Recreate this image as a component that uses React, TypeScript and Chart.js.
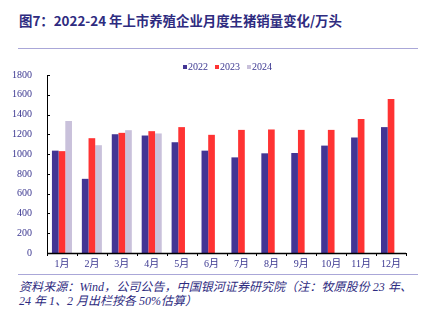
import React, { useEffect, useRef } from "react";
import { Chart, registerables } from "chart.js";

Chart.register(...registerables);

const categories = ["1月", "2月", "3月", "4月", "5月", "6月", "7月", "8月", "9月", "10月", "11月", "12月"];
const values2022 = [1035, 750, 1201, 1188, 1120, 1035, 967, 1008, 1011, 1086, 1168, 1273];
const values2023 = [1030, 1161, 1215, 1232, 1273, 1195, 1245, 1249, 1245, 1245, 1354, 1558];
const values2024 = [1334, 1090, 1242, 1209, null, null, null, null, null, null, null, null];
const yTicks = [0, 200, 400, 600, 800, 1000, 1200, 1400, 1600, 1800];
const seriesNames = ["2022", "2023", "2024"];
const seriesColors = ["#433594", "#FF3333", "#C9C1DB"];

const NAVY = "#3a3690";

const axisPlugin = {
  id: "axisPlugin",
  afterDraw(chart: any) {
    const { ctx, chartArea, scales } = chart;
    const y = scales.y;
    ctx.save();
    ctx.strokeStyle = "#000";
    ctx.lineWidth = 1;
    ctx.beginPath();
    ctx.moveTo(Math.round(chartArea.left) + 0.5, y.getPixelForValue(1800));
    ctx.lineTo(Math.round(chartArea.left) + 0.5, chartArea.bottom);
    ctx.stroke();
    yTicks.forEach((v) => {
      const py = Math.round(y.getPixelForValue(v)) + 0.5;
      ctx.beginPath();
      ctx.moveTo(chartArea.left, py);
      ctx.lineTo(chartArea.left + 3, py);
      ctx.stroke();
    });
    ctx.lineWidth = 1.5;
    ctx.beginPath();
    ctx.moveTo(chartArea.left, Math.round(chartArea.bottom) + 0.5);
    ctx.lineTo(chartArea.right, Math.round(chartArea.bottom) + 0.5);
    ctx.stroke();
    ctx.lineWidth = 1;
    const n = categories.length;
    const w = (chartArea.right - chartArea.left) / n;
    for (let i = 0; i <= n; i++) {
      const px = Math.round(chartArea.left + i * w) + 0.5;
      ctx.beginPath();
      ctx.moveTo(px, chartArea.bottom);
      ctx.lineTo(px, chartArea.bottom + 3);
      ctx.stroke();
    }
    ctx.restore();
  },
};

function BarChart() {
  const ref = useRef<HTMLCanvasElement | null>(null);
  useEffect(() => {
    if (!ref.current) return;
    const chart = new Chart(ref.current, {
      type: "bar",
      data: {
        labels: categories,
        datasets: [values2022, values2023, values2024].map((d, i) => ({
          label: seriesNames[i],
          data: d as any,
          backgroundColor: seriesColors[i],
          borderWidth: 0,
          categoryPercentage: 0.67,
          barPercentage: 1.0,
        })),
      },
      options: {
        animation: false,
        responsive: false,
        maintainAspectRatio: false,
        layout: { padding: { left: 0, right: 18, top: 13, bottom: 0 } },
        plugins: { legend: { display: false }, tooltip: { enabled: false } },
        scales: {
          x: {
            grid: { display: false },
            border: { display: false },
            ticks: {
              color: NAVY,
              font: { family: "'Liberation Serif', 'Noto Sans CJK SC', serif", size: 10 },
              padding: -3,
              maxRotation: 0,
            },
            afterFit(scale: any) {
              scale.height = 19;
            },
          },
          y: {
            min: 0,
            max: 1800,
            grid: { display: false },
            border: { display: false },
            afterBuildTicks(scale: any) {
              scale.ticks = yTicks.map((v) => ({ value: v }));
            },
            ticks: {
              color: NAVY,
              font: { family: "'Liberation Serif', serif", size: 10 },
              padding: 7,
              callback: (v: any) => String(v),
            },
            afterFit(scale: any) {
              scale.width = 47;
            },
          },
        },
      },
      plugins: [axisPlugin],
    });
    return () => chart.destroy();
  }, []);
  return <canvas ref={ref} width={424} height={210} style={{ position: "absolute", left: 0, top: 62, width: 424, height: 210 }} />;
}

export default function App() {
  const footStyle: React.CSSProperties = {
    position: "absolute",
    left: 19,
    width: 393,
    fontFamily: "'Liberation Serif', 'Noto Sans CJK SC', serif",
    fontStyle: "italic",
    fontSize: 12,
    color: "#2e2b80",
    lineHeight: "14px",
    whiteSpace: "nowrap",
  };
  return (
    <div style={{ position: "fixed", left: 0, top: 0, width: 424, height: 321, background: "#fff", overflow: "hidden" }}>
      <div
        style={{
          position: "absolute",
          left: 19,
          top: 11,
          fontFamily: "'Noto Sans CJK SC', sans-serif",
          fontWeight: 700,
          fontSize: 13.4,
          color: "#2e2b80",
          whiteSpace: "nowrap",
          lineHeight: "18px",
        }}
      >
        图7：2022-24 年上市养殖企业月度生猪销量变化/万头
      </div>
      <div style={{ position: "absolute", left: 18, top: 48, width: 400, height: 1, background: "#aaa7d8" }} />
      <BarChart />
      <div
        style={{
          position: "absolute",
          left: 183,
          top: 61,
          display: "flex",
          alignItems: "center",
          fontFamily: "'Liberation Serif', serif",
          fontSize: 10,
          color: NAVY,
          lineHeight: "12px",
          whiteSpace: "nowrap",
        }}
      >
        {seriesNames.map((n, i) => (
          <span key={n} style={{ display: "flex", alignItems: "center", marginRight: 7 }}>
            <span style={{ display: "inline-block", width: 4, height: 4, background: seriesColors[i], marginRight: 1 }} />
            {n}
          </span>
        ))}
      </div>
      <div style={{ position: "absolute", left: 18, top: 274, width: 400, height: 1, background: "#aaa7d8" }} />
      <div style={{ ...footStyle, top: 280, textAlign: "justify", textAlignLast: "justify" as any, whiteSpace: "normal" }}>
        资料来源：Wind，公司公告，中国银河证券研究院（注：牧原股份 23 年、
      </div>
      <div style={{ ...footStyle, top: 294 }}>24 年 1、2 月出栏按各 50%估算）</div>
    </div>
  );
}
